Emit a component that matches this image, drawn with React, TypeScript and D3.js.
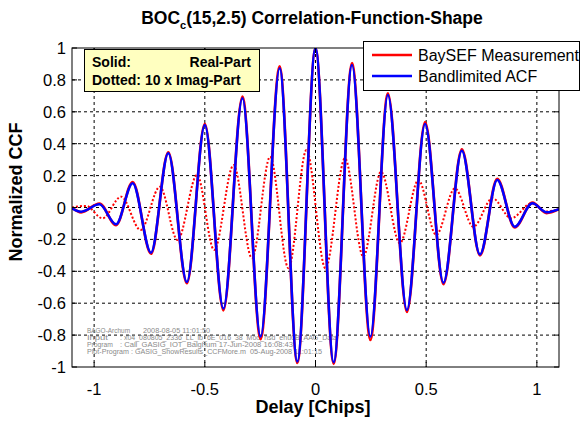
import React from "react";
import * as d3 from "d3";

// ---- data ----
const solidLags = [-1.1, -1.059, -0.976, -0.901, -0.826, -0.743, -0.665, -0.581, -0.5, -0.416, -0.33, -0.248, -0.162, -0.082, 0, 0.082, 0.165, 0.248, 0.327, 0.413, 0.495, 0.578, 0.661, 0.743, 0.821, 0.9, 0.98, 1.044, 1.1];
const acfValues = [-0.005, -0.026, 0.02, -0.105, 0.152, -0.283, 0.34, -0.467, 0.517, -0.634, 0.685, -0.81, 0.873, -0.965, 1.0, -0.97, 0.893, -0.81, 0.705, -0.643, 0.524, -0.471, 0.356, -0.294, 0.172, -0.12, 0.026, -0.03, -0.01];
const measuredValues = [0.0, -0.03, 0.025, -0.11, 0.16, -0.29, 0.345, -0.475, 0.525, -0.645, 0.695, -0.825, 0.885, -0.975, 1.0, -0.98, 0.905, -0.83, 0.715, -0.655, 0.535, -0.48, 0.365, -0.3, 0.18, -0.125, 0.03, -0.035, -0.01];
const imagLags = [-1.1, -1.036, -0.962, -0.878, -0.79, -0.703, -0.623, -0.535, -0.458, -0.37, -0.287, -0.205, -0.122, -0.041, 0.045, 0.133, 0.216, 0.296, 0.381, 0.465, 0.545, 0.63, 0.713, 0.8, 0.884, 0.975, 1.04, 1.1];
const imagValues = [0, 0.01, -0.068, 0.068, -0.141, 0.13, -0.204, 0.204, -0.266, 0.266, -0.318, 0.318, -0.381, 0.36, -0.381, 0.308, -0.308, 0.224, -0.224, 0.172, -0.172, 0.12, -0.12, 0.058, -0.068, 0.025, -0.025, -0.01];

const xTicks = [-1, -0.5, 0, 0.5, 1];
const xTickLabels = ["-1", "-0.5", "0", "0.5", "1"];
const yTicks = [-1, -0.8, -0.6, -0.4, -0.2, 0, 0.2, 0.4, 0.6, 0.8, 1];
const yTickLabels = ["-1", "-0.8", "-0.6", "-0.4", "-0.2", "0", "0.2", "0.4", "0.6", "0.8", "1"];
const legendLabels = ["BaySEF Measurement", "Bandlimited ACF"];
const infoLines = [
  ["BAGO-Archum", "2008-08-05 11:01:50"],
  ["Input", ": x04_080805_2336_LL_lb_6E_016_38_Mod_nsd_enu0B_AAG_Data"],
  ["Program", ": Call_GASIG_IOT_Balghum     17-Jun-2008 16:08:43"],
  ["Plot-Program : GASIG_ShowResults_CCFMore.m", "05-Aug-2008 11:01:15"],
];
// [start of first part, end of first part, start of second part, end of second part]
const infoSpans = [[87, 130, 143, 210], [87, 108, 120, 337], [87, 113, 120, 293], [87, 246, 250, 322]];

const W = 581, H = 426;
const L = 72, R = 559, T = 48, B = 367;
const FONT = "'Liberation Sans', Arial, sans-serif";

export default function App() {
  const x = d3.scaleLinear().domain([-1.1, 1.1]).range([L, R]);
  const y = d3.scaleLinear().domain([-1, 1]).range([B, T]);
  const line = d3.line<[number, number]>().x(d => x(d[0])).y(d => y(d[1])).curve(d3.curveMonotoneX);
  const measured = line(solidLags.map((l, i) => [l, measuredValues[i]]) as [number, number][]) || "";
  const acf = line(solidLags.map((l, i) => [l, acfValues[i]]) as [number, number][]) || "";
  const imag = line(imagLags.map((l, i) => [l, imagValues[i]]) as [number, number][]) || "";

  return (
    <svg width={W} height={H} style={{ position: "absolute", left: 0, top: 0, background: "#fff" }} fontFamily={FONT}>
      <rect x={0} y={0} width={W} height={H} fill="#fff" />
      <defs>
        <clipPath id="plotclip"><rect x={L} y={T} width={R - L} height={B - T} /></clipPath>
      </defs>
      {/* grid */}
      {xTicks.map(t => (
        <line key={"gx" + t} x1={x(t)} x2={x(t)} y1={T} y2={B} stroke="#000" strokeWidth={1} strokeDasharray="3,3" />
      ))}
      {yTicks.filter(t => Math.abs(t) < 1).map(t => (
        <line key={"gy" + t} x1={L} x2={R} y1={y(t)} y2={y(t)} stroke="#000" strokeWidth={1} strokeDasharray="3,3" />
      ))}
      {/* info text */}
      {infoLines.map((ln, i) => (
        <g key={"info" + i} fontSize={6.5} fill="#8a8a8a">
          <text x={infoSpans[i][0]} y={333 + i * 7} textLength={infoSpans[i][1] - infoSpans[i][0]} lengthAdjust="spacingAndGlyphs">{ln[0]}</text>
          <text x={infoSpans[i][2]} y={333 + i * 7} textLength={infoSpans[i][3] - infoSpans[i][2]} lengthAdjust="spacingAndGlyphs">{ln[1]}</text>
        </g>
      ))}
      {/* curves */}
      <g clipPath="url(#plotclip)">
        <path d={imag} fill="none" stroke="#ff0000" strokeWidth={2} strokeDasharray="2,2" />
        <path d={measured} fill="none" stroke="#ff0000" strokeWidth={2.7} />
        <path d={acf} fill="none" stroke="#0000ff" strokeWidth={2.5} />
      </g>
      {/* axes box */}
      <rect x={L} y={T} width={R - L} height={B - T} fill="none" stroke="#000" strokeWidth={1} />
      {xTicks.map(t => (
        <g key={"tx" + t}>
          <line x1={x(t)} x2={x(t)} y1={B} y2={B - 5} stroke="#000" />
          <line x1={x(t)} x2={x(t)} y1={T} y2={T + 5} stroke="#000" />
        </g>
      ))}
      {yTicks.map(t => (
        <g key={"ty" + t}>
          <line x1={L} x2={L + 5} y1={y(t)} y2={y(t)} stroke="#000" />
          <line x1={R} x2={R - 5} y1={y(t)} y2={y(t)} stroke="#000" />
        </g>
      ))}
      {xTicks.map((t, i) => (
        <text key={"lx" + t} x={x(t)} y={395} textAnchor="middle" fontSize={16.5}>{xTickLabels[i]}</text>
      ))}
      {yTicks.map((t, i) => (
        <text key={"ly" + t} x={66} y={y(t) + 6} textAnchor="end" fontSize={16.5}>{yTickLabels[i]}</text>
      ))}
      {/* title & labels */}
      <text x={312} y={24} textAnchor="middle" fontSize={17.5} fontWeight="bold">
        BOC<tspan fontSize={11} dy={5}>c</tspan><tspan dy={-5}>(15,2.5) Correlation-Function-Shape</tspan>
      </text>
      <text x={313} y={413} textAnchor="middle" fontSize={18} fontWeight="bold">Delay [Chips]</text>
      <text transform="translate(22,192) rotate(-90)" textAnchor="middle" fontSize={18} fontWeight="bold">Normalized CCF</text>
      {/* annotation box */}
      <rect x={84.5} y={49.5} width={175} height={42} fill="#ffffc0" stroke="#000" />
      <text x={92} y={67} fontSize={14} fontWeight="bold">Solid:</text>
      <text x={251} y={67} fontSize={14} fontWeight="bold" textAnchor="end">Real-Part</text>
      <text x={92} y={85} fontSize={14} fontWeight="bold">Dotted: 10 x Imag-Part</text>
      {/* legend */}
      <rect x={363.5} y={41.5} width={216} height={49} fill="#fff" stroke="#000" />
      <line x1={372} x2={412} y1={55} y2={55} stroke="#ff0000" strokeWidth={2.5} />
      <line x1={372} x2={412} y1={76} y2={76} stroke="#0000ff" strokeWidth={2.5} />
      <text x={418} y={61} fontSize={16}>{legendLabels[0]}</text>
      <text x={418} y={82} fontSize={16}>{legendLabels[1]}</text>
    </svg>
  );
}
